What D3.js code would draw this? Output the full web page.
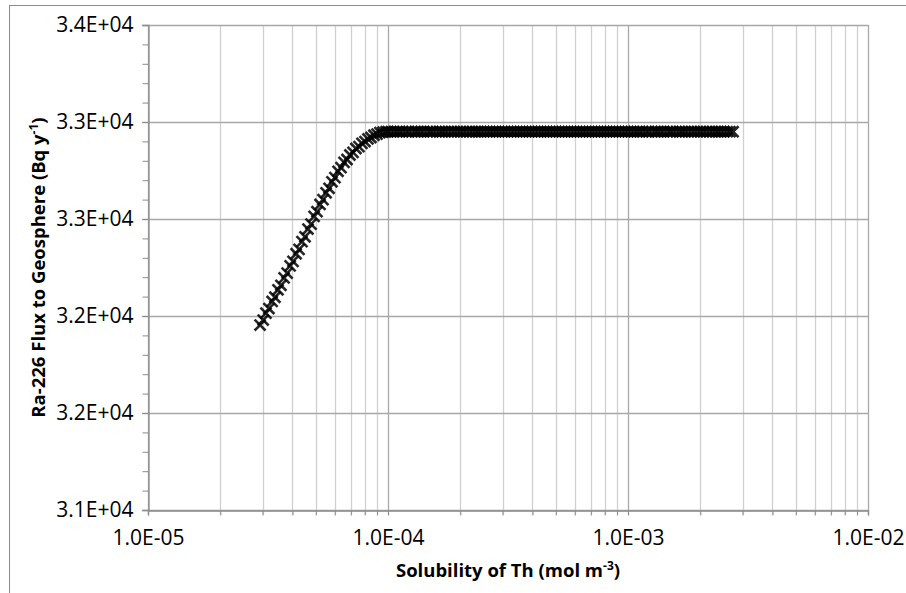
<!DOCTYPE html>
<html>
<head>
<meta charset="utf-8">
<script src="https://cdn.jsdelivr.net/npm/d3@7"></script>
<style>
  html, body { margin: 0; padding: 0; background: #fff; }
  svg { display: block; }
  text { font-family: "Open Sans", "Lato", sans-serif; fill: #000; }
</style>
</head>
<body>
<svg id="chart" width="906" height="593"></svg>
<script>
// ---------------- data ----------------
const xTickValues = [1e-5, 1e-4, 1e-3, 1e-2];
const xTickLabels = ["1.0E-05", "1.0E-04", "1.0E-03", "1.0E-02"];
const yTickValues = [31000, 31600, 32200, 32800, 33400, 34000];
const yTickLabels = ["3.1E+04", "3.2E+04", "3.2E+04", "3.3E+04", "3.3E+04", "3.4E+04"];

// rising part (solubility, flux)
const riseSolubility = [
  2.93e-5, 3.02e-5, 3.10e-5, 3.19e-5, 3.29e-5, 3.38e-5, 3.48e-5, 3.58e-5, 3.69e-5, 3.80e-5,
  3.91e-5, 4.02e-5, 4.14e-5, 4.26e-5, 4.38e-5, 4.51e-5, 4.64e-5, 4.78e-5, 4.92e-5, 5.06e-5,
  5.21e-5, 5.36e-5, 5.52e-5, 5.68e-5, 5.84e-5, 6.01e-5, 6.19e-5, 6.37e-5, 6.56e-5, 6.75e-5,
  6.94e-5, 7.15e-5, 7.35e-5, 7.57e-5, 7.79e-5, 8.02e-5, 8.25e-5, 8.49e-5, 8.74e-5, 9.00e-5,
  9.26e-5, 9.53e-5, 9.81e-5
];
const riseFlux = [
  32144, 32175, 32218, 32246, 32290, 32316, 32362, 32390, 32436, 32465,
  32510, 32538, 32585, 32612, 32660, 32690, 32738, 32768, 32816, 32845,
  32890, 32920, 32962, 32990, 33030, 33056, 33095, 33118, 33150, 33168,
  33196, 33212, 33236, 33248, 33268, 33279, 33295, 33304, 33318, 33325,
  33334, 33337, 33340
];
// plateau part (flux constant)
const plateauSolubility = [
  1.00e-4, 1.03e-4, 1.06e-4, 1.09e-4, 1.12e-4, 1.15e-4, 1.19e-4, 1.22e-4, 1.26e-4, 1.30e-4,
  1.33e-4, 1.37e-4, 1.41e-4, 1.46e-4, 1.50e-4, 1.54e-4, 1.59e-4, 1.64e-4, 1.68e-4, 1.73e-4,
  1.78e-4, 1.84e-4, 1.89e-4, 1.95e-4, 2.00e-4, 2.06e-4, 2.12e-4, 2.19e-4, 2.25e-4, 2.32e-4,
  2.37e-4, 2.44e-4, 2.51e-4, 2.59e-4, 2.66e-4, 2.74e-4, 2.82e-4, 2.90e-4, 2.99e-4, 3.07e-4,
  3.16e-4, 3.26e-4, 3.35e-4, 3.45e-4, 3.55e-4, 3.65e-4, 3.76e-4, 3.87e-4, 3.98e-4, 4.10e-4,
  4.22e-4, 4.34e-4, 4.47e-4, 4.60e-4, 4.73e-4, 4.87e-4, 5.01e-4, 5.16e-4, 5.31e-4, 5.46e-4,
  5.62e-4, 5.79e-4, 5.96e-4, 6.13e-4, 6.31e-4, 6.49e-4, 6.68e-4, 6.88e-4, 7.08e-4, 7.29e-4,
  7.50e-4, 7.72e-4, 7.94e-4, 8.17e-4, 8.41e-4, 8.66e-4, 8.91e-4, 9.17e-4, 9.44e-4, 9.72e-4,
  1.00e-3, 1.03e-3, 1.06e-3, 1.09e-3, 1.12e-3, 1.15e-3, 1.19e-3, 1.22e-3, 1.26e-3, 1.30e-3,
  1.33e-3, 1.37e-3, 1.41e-3, 1.46e-3, 1.50e-3, 1.54e-3, 1.59e-3, 1.64e-3, 1.68e-3, 1.73e-3,
  1.78e-3, 1.84e-3, 1.89e-3, 1.95e-3, 2.00e-3, 2.06e-3, 2.12e-3, 2.19e-3, 2.25e-3, 2.32e-3,
  2.37e-3, 2.44e-3, 2.51e-3, 2.59e-3, 2.66e-3, 2.74e-3
];
const plateauFlux = 33340;

// ---------------- layout ----------------
const svg = d3.select("#chart");
const plot = { left: 148, top: 25, right: 868, bottom: 510 };

const x = d3.scaleLog().domain([1e-5, 1e-2]).range([plot.left, plot.right]);
const y = d3.scaleLinear().domain([31000, 34000]).range([plot.bottom, plot.top]);

// outer frame (top & left visible)
svg.append("rect").attr("x", 9.5).attr("y", 5.5).attr("width", 1000).attr("height", 1000)
  .attr("fill", "none").attr("stroke", "#8c8c8c").attr("stroke-width", 1);

// minor x values
const xMinor = [];
[1e-5, 1e-4, 1e-3].forEach(d => { for (let k = 2; k <= 9; k++) xMinor.push(d * k); });
const yMinor = d3.range(31000, 34000 + 1, 120).filter(v => !yTickValues.includes(v));

// vertical gridlines
svg.append("g").selectAll("line").data(xMinor).join("line")
  .attr("x1", d => Math.round(x(d)) + 0.5).attr("x2", d => Math.round(x(d)) + 0.5)
  .attr("y1", plot.top).attr("y2", plot.bottom + 5)
  .attr("stroke", "#d0d0d0").attr("stroke-width", 1.3);
svg.append("g").selectAll("line").data(xTickValues).join("line")
  .attr("x1", d => Math.round(x(d)) + 0.5).attr("x2", d => Math.round(x(d)) + 0.5)
  .attr("y1", plot.top).attr("y2", plot.bottom + 5)
  .attr("stroke", "#a8a8a8").attr("stroke-width", 1.3);

// horizontal gridlines
svg.append("g").selectAll("line").data(yTickValues).join("line")
  .attr("x1", plot.left - 6).attr("x2", plot.right)
  .attr("y1", d => Math.round(y(d)) + 0.5).attr("y2", d => Math.round(y(d)) + 0.5)
  .attr("stroke", "#a8a8a8").attr("stroke-width", 1.3);

// y axis
const yAxis = svg.append("g").attr("transform", `translate(${plot.left + 0.5},0)`)
  .call(d3.axisLeft(y).tickValues(yTickValues).tickFormat((d, i) => yTickLabels[i]).tickSize(6).tickPadding(9));
yAxis.select(".domain").attr("stroke", "#8c8c8c").attr("stroke-width", 1.3);
yAxis.selectAll(".tick line").attr("stroke", "#8c8c8c");
yAxis.selectAll(".tick text").style("font-size", "21px").style("font-family", "'Open Sans'").attr("fill", "#000");
const yMinorAxis = svg.append("g").attr("transform", `translate(${plot.left + 0.5},0)`)
  .call(d3.axisLeft(y).tickValues(yMinor).tickFormat("").tickSize(6));
yMinorAxis.select(".domain").remove();
yMinorAxis.selectAll(".tick line").attr("stroke", "#8c8c8c");

// x axis
const xAxis = svg.append("g").attr("transform", `translate(0,${plot.bottom + 0.5})`)
  .call(d3.axisBottom(x).tickValues(xTickValues).tickFormat((d, i) => xTickLabels[i]).tickSize(5).tickPadding(15));
xAxis.select(".domain").attr("stroke", "#8c8c8c").attr("stroke-width", 1.3);
xAxis.selectAll(".tick line").attr("stroke", "#8c8c8c");
xAxis.selectAll(".tick text").style("font-size", "21px").style("font-family", "'Open Sans'").attr("fill", "#000");
const xMinorAxis = svg.append("g").attr("transform", `translate(0,${plot.bottom + 0.5})`)
  .call(d3.axisBottom(x).tickValues(xMinor).tickFormat("").tickSize(5));
xMinorAxis.select(".domain").remove();
xMinorAxis.selectAll(".tick line").attr("stroke", "#8c8c8c");

// data points
const data = riseSolubility.map((s, i) => ({ s, f: riseFlux[i] }))
  .concat(plateauSolubility.map(s => ({ s, f: plateauFlux })));
const sym = d3.symbol().type(d3.symbolTimes).size(80);
svg.append("g").selectAll("path").data(data).join("path")
  .attr("transform", d => `translate(${x(d.s)},${y(d.f)})`)
  .attr("d", sym)
  .attr("fill", "none").attr("stroke", "#000").attr("stroke-width", 2.6).attr("stroke-opacity", 0.85);

// axis titles
const xt = svg.append("text").attr("x", (plot.left + plot.right) / 2).attr("y", 577)
  .attr("text-anchor", "middle").attr("font-size", 18.5).attr("font-weight", "bold");
xt.append("tspan").text("Solubility of Th (mol m");
xt.append("tspan").attr("dy", -7).attr("font-size", 12).text("-3");
xt.append("tspan").attr("dy", 7).text(")");

const yt = svg.append("text")
  .attr("transform", `translate(45,${(plot.top + plot.bottom) / 2}) rotate(-90)`)
  .attr("text-anchor", "middle").attr("font-size", 18.5).attr("font-weight", "bold");
yt.append("tspan").text("Ra-226 Flux to Geosphere (Bq y");
yt.append("tspan").attr("dy", -7).attr("font-size", 12).text("-1");
yt.append("tspan").attr("dy", 7).text(")");
</script>
</body>
</html>
